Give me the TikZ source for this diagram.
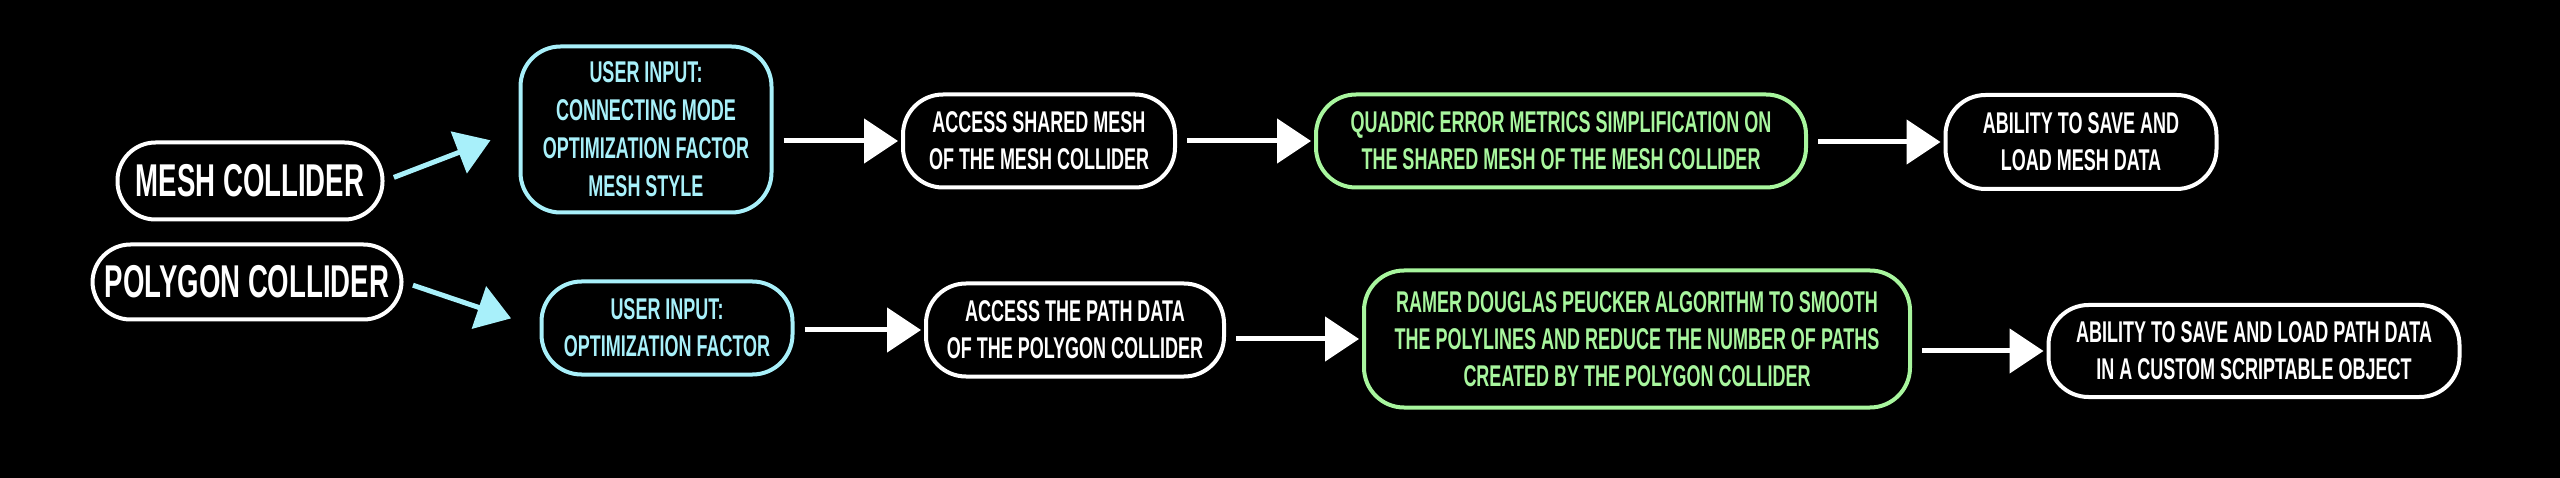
\documentclass[tikz,border=0pt]{standalone}
\usepackage{fontspec}
\setmainfont{Liberation Sans}[FakeStretch=0.6]
\usetikzlibrary{arrows.meta}
\definecolor{ucyan}{RGB}{168,240,250}
\definecolor{ugreen}{RGB}{168,246,158}
\tikzset{
  box/.style={draw=white, line width=4pt, rounded corners=40pt, text=white,
    align=center, inner sep=0pt, font=\bfseries\fontsize{30}{37}\selectfont},
  bigbox/.style={box, rounded corners=38pt, font=\bfseries\fontsize{46}{52}\selectfont},
  cyanbox/.style={box, draw=ucyan, text=ucyan},
  greenbox/.style={box, draw=ugreen, text=ugreen},
  arr/.style={draw=white, line width=5pt, -{Triangle[length=34pt,width=44pt]},
    shorten <=10pt, shorten >=3pt},
  carr/.style={arr, draw=ucyan, fill=ucyan, shorten <=10pt, shorten >=30pt},
}
\begin{document}
\begin{tikzpicture}[x=1pt,y=-1pt]
\fill[black] (0,0) rectangle (2560,478);
\useasboundingbox (0,0) rectangle (2560,478);

\node[bigbox, minimum width=265pt, minimum height=77pt] (mesh) at (250,181) {MESH COLLIDER};
\node[bigbox, minimum width=309pt, minimum height=75pt] (poly) at (247,282) {POLYGON COLLIDER};

\node[cyanbox, minimum width=251pt, minimum height=166pt, font=\bfseries\fontsize{30}{38}\selectfont] (ui1) at (646,129.5)
  {USER INPUT:\\CONNECTING MODE\\OPTIMIZATION FACTOR\\MESH STYLE};
\node[cyanbox, minimum width=251pt, minimum height=93pt] (ui2) at (667,328)
  {USER INPUT:\\OPTIMIZATION FACTOR};

\node[box, minimum width=272pt, minimum height=93pt] (acc1) at (1039,141)
  {ACCESS SHARED MESH\\OF THE MESH COLLIDER};
\node[greenbox, minimum width=490pt, minimum height=93pt] (qem) at (1561,141)
  {QUADRIC ERROR METRICS SIMPLIFICATION ON\\THE SHARED MESH OF THE MESH COLLIDER};
\node[box, minimum width=271pt, minimum height=94pt] (ab1) at (2081,142)
  {ABILITY TO SAVE AND\\LOAD MESH DATA};

\node[box, minimum width=298pt, minimum height=93pt] (acc2) at (1075,330)
  {ACCESS THE PATH DATA\\OF THE POLYGON COLLIDER};
\node[greenbox, minimum width=546pt, minimum height=137pt] (rdp) at (1637,339)
  {RAMER DOUGLAS PEUCKER ALGORITHM TO SMOOTH\\THE POLYLINES AND REDUCE THE NUMBER OF PATHS\\CREATED BY THE POLYGON COLLIDER};
\node[box, minimum width=411pt, minimum height=92pt] (ab2) at (2254,351)
  {ABILITY TO SAVE AND LOAD PATH DATA\\IN A CUSTOM SCRIPTABLE OBJECT};

\draw[carr] (mesh.east) -- (ui1.west);
\draw[carr] (poly.east) -- (ui2.west);

\draw[arr] (ui1.east |- acc1.west) -- (acc1.west);
\draw[arr] (acc1.east) -- (qem.west);
\draw[arr] (qem.east |- ab1.west) -- (ab1.west);

\draw[arr] (ui2.east |- acc2.west) -- (acc2.west);
\draw[arr] (acc2.east |- rdp.west) -- (rdp.west);
\draw[arr] (rdp.east |- ab2.west) -- (ab2.west);
\end{tikzpicture}
\end{document}
